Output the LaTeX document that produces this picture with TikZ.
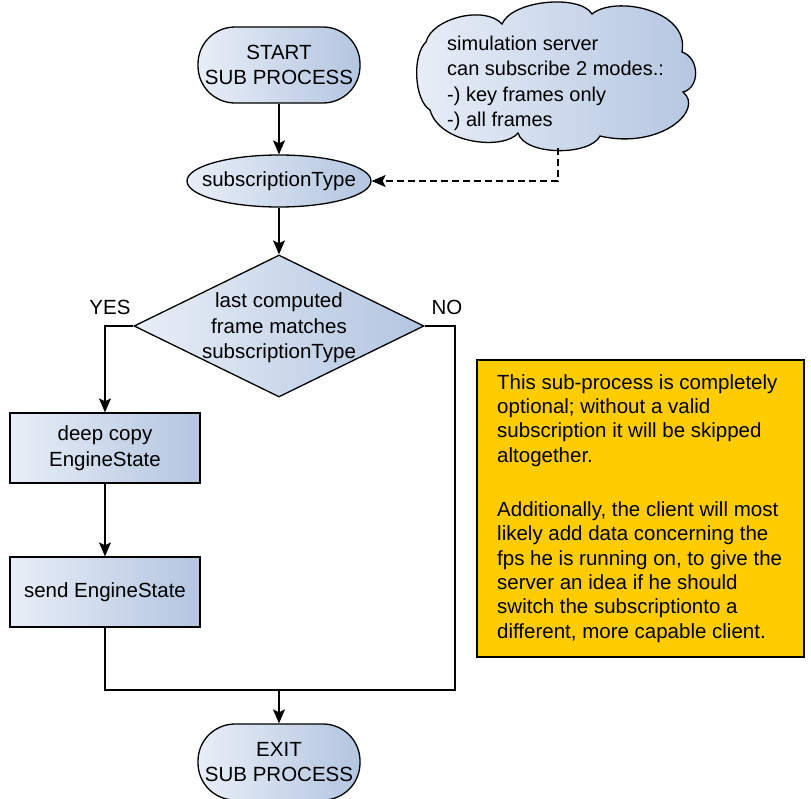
\documentclass[tikz,border=0pt]{standalone}
\usepackage{fontspec}
\setmainfont{Liberation Sans}
\usetikzlibrary{shapes.geometric,arrows.meta}
\definecolor{boxleft}{HTML}{E8EEF7}
\definecolor{boxright}{HTML}{B3C5E0}
\definecolor{notefill}{HTML}{FFCC00}
\begin{document}
\begin{tikzpicture}[x=1pt,y=-1pt,
  every node/.style={font=\fontsize{20.5}{25.5}\selectfont, text=black},
  blueshade/.style={draw=black, line width=1.3pt, left color=boxleft, right color=boxright},
  terminator/.style={blueshade, rectangle, rounded corners=37pt, minimum width=162pt, minimum height=76pt, align=center, inner sep=0pt},
  processbox/.style={blueshade, rectangle, minimum width=190pt, minimum height=70pt, align=center, inner sep=0pt},
  flow/.style={line width=1.3pt, -{Stealth[length=14pt,width=12pt,inset=3pt]}},
  plain/.style={line width=1.3pt},
  hint/.style={line width=1.3pt, dash pattern=on 7pt off 4pt, -{Stealth[length=14pt,width=12pt,inset=3pt]}}
]
\useasboundingbox (0,0) rectangle (811,798);

% start / exit terminators
\node[terminator] (start) at (279,65) {START\\SUB PROCESS};
\node[terminator] (exit) at (279,762) {EXIT\\SUB PROCESS};

% subscription type input
\node[blueshade, ellipse, minimum width=184pt, minimum height=52pt, inner sep=0pt] (subtype) at (279,181) {};
\node[inner sep=0pt] (subtypetext) at (279,181) {subscriptionType};

% decision
\node[blueshade, diamond, minimum width=290pt, minimum height=142pt, inner sep=0pt] (decide) at (279,326) {};
\node[align=center, inner sep=0pt] (decidetext) at (279,328) {last computed\\frame matches\\subscriptionType};

% processing steps
\node[processbox] (copy) at (105,448) {\fontsize{20.5}{24}\selectfont deep copy\\EngineState};
\node[processbox] (send) at (105,592) {send EngineState};

% server cloud, drawn puff by puff
\path[blueshade]
  (426,42) .. controls (432,18) and (485,5) .. (502,24)
           .. controls (512,0) and (580,-6) .. (592,14)
           .. controls (615,-5) and (690,10) .. (682,52)
           .. controls (700,58) and (700,88) .. (683,92)
           .. controls (705,110) and (660,150) .. (600,136)
           .. controls (590,156) and (525,156) .. (518,133)
           .. controls (505,150) and (440,145) .. (430,110)
           .. controls (414,100) and (412,55) .. (426,42) -- cycle;
\node[align=left, anchor=north west, inner sep=0pt,
      font=\fontsize{20}{25.3}\selectfont] (cloud) at (447,36)
  {simulation server\\can subscribe 2 modes.:\\-) key frames only\\-) all frames};

% note box
\node[draw=black, line width=1.3pt, fill=notefill, minimum width=327pt, minimum height=297pt, inner sep=0pt] (note) at (640.5,508.5) {};
\node[align=left, anchor=north west, inner sep=0pt,
      font=\fontsize{20.5}{24.4}\selectfont] (notetext) at (497,374)
  {This sub-process is completely\\optional; without a valid\\subscription it will be skipped\\altogether.\\[29.7pt]Additionally, the client will most\\likely add data concerning the\\fps he is running on, to give the\\server an idea if he should\\switch the subscriptionto a\\different, more capable client.};

% branch labels
\node (yes) at (110,307) {YES};
\node (no) at (447,307) {NO};

% junction points
\coordinate (merge) at (279,690);
\coordinate (nodrop) at (455,690);
\coordinate (cloudfoot) at (558,148);

% connectors
\draw[flow] (start) -- (subtype);
\draw[flow] (subtype) -- (decide);
\draw[flow] (decide.west) -| (copy.north);
\draw[flow] (copy) -- (send);
\draw[plain] (send.south) |- (merge);
\draw[plain] (decide.east) -| (nodrop) -- (merge);
\draw[flow] (merge) -- (exit);
\draw[hint] (cloudfoot) |- (subtype.east);
\end{tikzpicture}
\end{document}
